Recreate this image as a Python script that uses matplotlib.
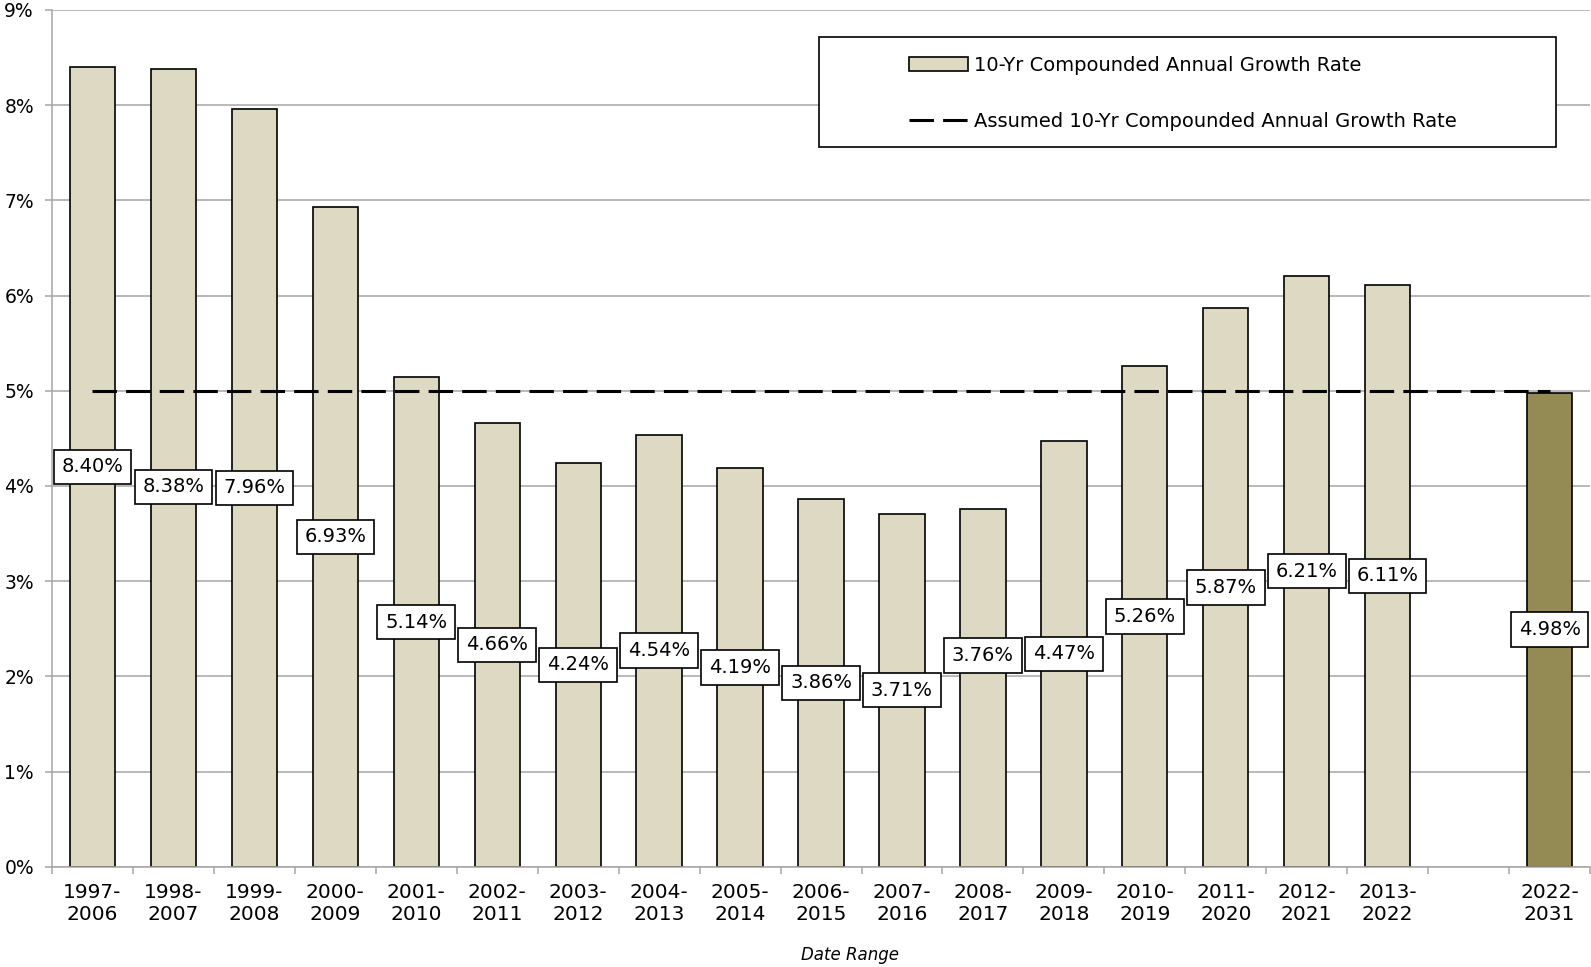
import numpy as np
import matplotlib.pyplot as plt
from matplotlib.patches import Rectangle

# 10-year windows and their compounded annual growth rates (%)
ranges = ["1997-\n2006", "1998-\n2007", "1999-\n2008", "2000-\n2009", "2001-\n2010",
          "2002-\n2011", "2003-\n2012", "2004-\n2013", "2005-\n2014", "2006-\n2015",
          "2007-\n2016", "2008-\n2017", "2009-\n2018", "2010-\n2019", "2011-\n2020",
          "2012-\n2021", "2013-\n2022", "2022-\n2031"]
cagr = [8.40, 8.38, 7.96, 6.93, 5.14, 4.66, 4.24, 4.54, 4.19, 3.86,
        3.71, 3.76, 4.47, 5.26, 5.87, 6.21, 6.11, 4.98]
assumed_rate = 5.0

# one empty slot before the projected window
pos = np.array(list(range(17)) + [18])
colors = ["#DDD9C3"] * 17 + ["#948A54"]

# labels sit at mid-bar; a couple were nudged to avoid overlaps
label_nudge = {1: -0.20, 11: 0.34}

plt.rcParams['font.family'] = 'DejaVu Sans'
fig = plt.figure(figsize=(15.91, 9.67), dpi=100)
ax = fig.add_axes([0.0327, 0.1037, 0.9667, 0.886])

grid_c = "#A6A6A6"
ax.set_axisbelow(True)
ax.yaxis.grid(True, color=grid_c, lw=1.1)

bars = ax.bar(pos, cagr, width=0.56, color=colors, edgecolor="black", lw=1.2, zorder=2)
line, = ax.plot([pos[0], pos[-1]], [assumed_rate, assumed_rate], color="black", lw=2.2,
                dashes=(8, 3), zorder=3)

for i, (x, v) in enumerate(zip(pos, cagr)):
    y = v / 2 + label_nudge.get(i, 0)
    ax.text(x, y, f"{v:.2f}%", ha="center", va="center", fontsize=14, zorder=5,
            bbox=dict(boxstyle="square,pad=0.4", fc="white", ec="black", lw=1.2))

ax.set_xlim(-0.5, 18.5)
ax.set_ylim(0, 9)
ax.set_yticks(range(10))
ax.set_yticklabels([f"{v}%" for v in range(10)], fontsize=13.5)
ax.set_xticks(pos)
ax.set_xticklabels(ranges, fontsize=14.5)
ax.set_xticks(np.arange(-0.5, 19, 1), minor=True)
ax.tick_params(axis="x", which="major", length=0, pad=12)
ax.tick_params(axis="x", which="minor", length=5, color=grid_c, width=1.1)
ax.tick_params(axis="y", length=5, color=grid_c, width=1.1, pad=8)

for s in ["top", "right"]:
    ax.spines[s].set_visible(False)
for s in ["left", "bottom"]:
    ax.spines[s].set_color(grid_c)
    ax.spines[s].set_linewidth(1.1)

ax.set_xlabel("Date Range", fontsize=12, style="italic")
ax.xaxis.set_label_coords(0.519, -0.093)

# legend frame drawn separately so the entries can sit inset from its left edge
ax.add_patch(Rectangle((0.499, 0.840), 0.479, 0.128, transform=ax.transAxes,
                       fc="white", ec="black", lw=1.2, zorder=6))
leg = ax.legend([bars[0], line],
                ["10-Yr Compounded Annual Growth Rate",
                 "Assumed 10-Yr Compounded Annual Growth Rate"],
                loc="center left", bbox_to_anchor=(0.551, 0.903), frameon=False,
                fontsize=14, borderpad=0, labelspacing=1.9, handlelength=3,
                handletextpad=0.35)
leg.legend_handles[0].set_facecolor("#DDD9C3")
leg.set_zorder(7)

fig.savefig("out.png", dpi=100)
